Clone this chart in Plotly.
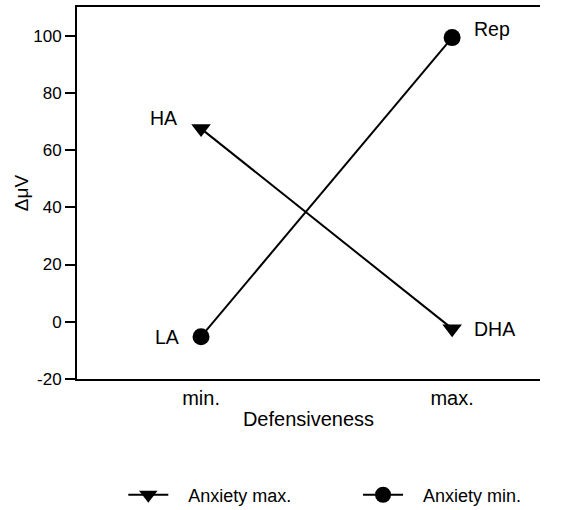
import plotly.graph_objects as go

categories = ["min.", "max."]
x_pos = [0, 1]
anxiety_max = [67.5, -2.4]
anxiety_min = [-5.2, 99.3]
labels_max = ["HA", "DHA"]
labels_min = ["LA", "Rep"]
y_ticks = [-20, 0, 20, 40, 60, 80, 100]
y_tick_text = ["-20", "0", "20", "40", "60", "80", "100"]

FONT = "Liberation Sans, Arial, Helvetica, sans-serif"
NB = "\u00a0\u00a0\u00a0"

fig = go.Figure()
fig.add_trace(go.Scatter(
    x=x_pos, y=anxiety_max, mode="lines+markers", name=NB + "Anxiety max.",
    line=dict(color="black", width=2),
    marker=dict(symbol="triangle-down", size=17, color="black"),
    legend="legend",
))
fig.add_trace(go.Scatter(
    x=x_pos, y=anxiety_min, mode="lines+markers", name=NB + "Anxiety min.",
    line=dict(color="black", width=2),
    marker=dict(symbol="circle", size=17, color="black"),
    legend="legend2",
))

lab_font = dict(size=19.5, color="black", family=FONT)
fig.add_annotation(x=x_pos[0], y=anxiety_max[0], text=labels_max[0], showarrow=False,
                   xshift=-38, yshift=11, font=lab_font)
fig.add_annotation(x=x_pos[1], y=anxiety_max[1], text=labels_max[1], showarrow=False,
                   xshift=42, yshift=0, font=lab_font)
fig.add_annotation(x=x_pos[0], y=anxiety_min[0], text=labels_min[0], showarrow=False,
                   xshift=-34, yshift=0, font=lab_font)
fig.add_annotation(x=x_pos[1], y=anxiety_min[1], text=labels_min[1], showarrow=False,
                   xshift=40, yshift=9, font=lab_font)

leg_common = dict(orientation="h", y=-0.312, yanchor="middle", xanchor="left",
                  font=dict(size=18), itemwidth=40, bgcolor="rgba(0,0,0,0)")

fig.update_layout(
    width=572, height=510,
    margin=dict(l=77, r=32, t=7, b=131, autoexpand=False),
    paper_bgcolor="white", plot_bgcolor="white",
    font=dict(family=FONT, size=17, color="black"),
    showlegend=True,
    legend=dict(x=0.1, **leg_common),
    legend2=dict(x=0.607, **leg_common),
    xaxis=dict(
        range=[-0.494, 1.35], tickmode="array", tickvals=x_pos, ticktext=categories,
        showline=True, linecolor="black", linewidth=2, mirror=True, automargin=False,
        showgrid=False, zeroline=False, ticks="", tickfont=dict(size=20),
        title=dict(text="Defensiveness", font=dict(size=20), standoff=4),
    ),
    yaxis=dict(
        range=[-20, 110], tickmode="array", tickvals=y_ticks, ticktext=y_tick_text,
        showline=True, linecolor="black", linewidth=2, mirror=False, automargin=False,
        showgrid=False, zeroline=False, ticks="outside", ticklen=10, tickwidth=1.5,
        tickcolor="black", tickfont=dict(size=17),
        title=dict(text="ΔμV", font=dict(size=19), standoff=0),
    ),
)

fig.write_html("out.html", post_script="document.body.style.margin='0';",
               config={"displayModeBar": False})
